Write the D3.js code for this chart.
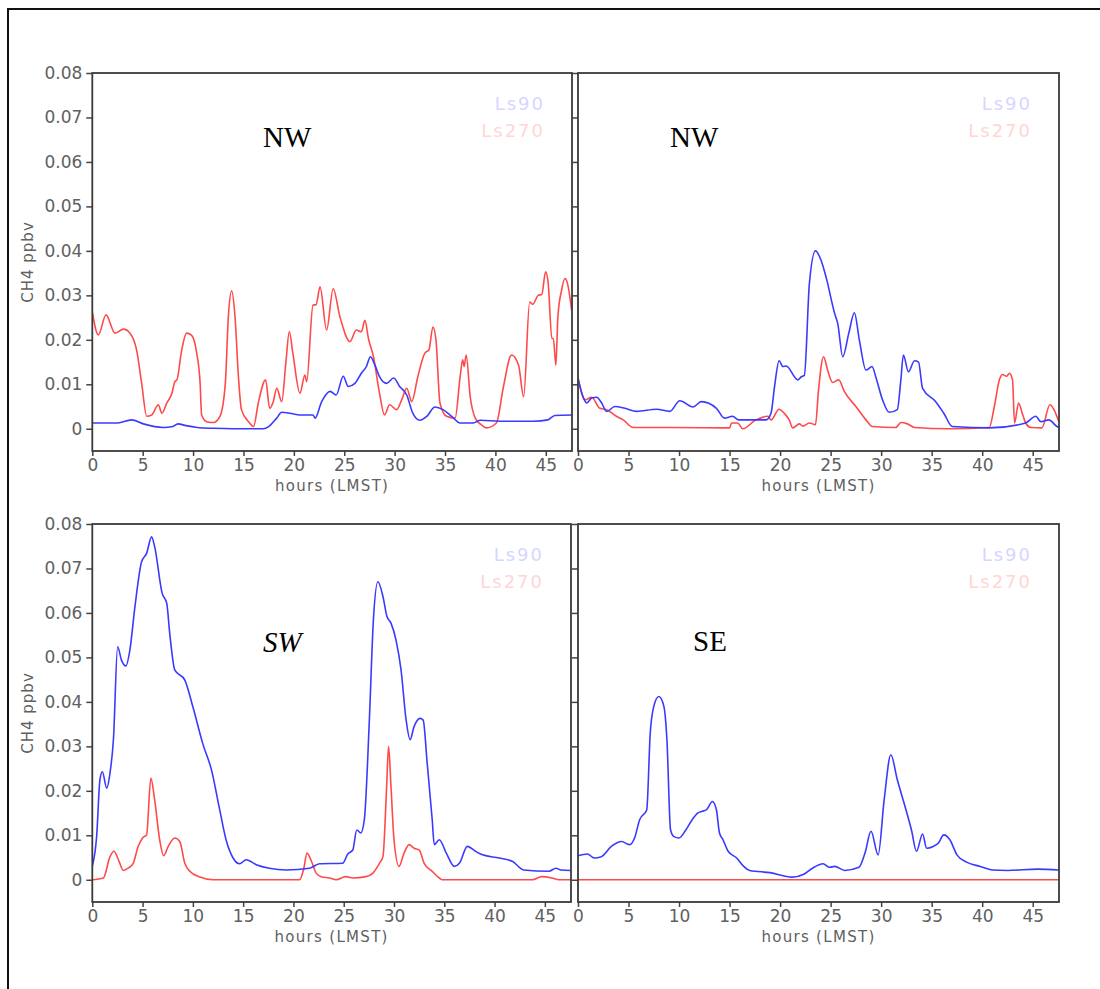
<!DOCTYPE html>
<html>
<head>
<meta charset="utf-8">
<script src="https://cdn.jsdelivr.net/npm/d3@7"></script>
<style>
  body { margin: 0; background: #fff; }
  svg { display: block; }
  .tick text { font-family: "DejaVu Sans", sans-serif; font-size: 17px; fill: #606060; }
  .tick line { stroke: #444; stroke-width: 1.5; }
</style>
</head>
<body>
<div id="chart"></div>
<script>
// hours (LMST) / CH4 ppbv
const nwLeftLs90 = [[0,0.0013],[2.4,0.0013],[3.9,0.002],[5.06,0.0011],[7.05,0.0003],[8.0,0.0005],[8.5,0.0011],[9.3,0.0007],[10.4,0.0003],[12.0,0.0001],[14.0,0],[17.0,0],[17.5,0.0005],[18.3,0.0024],[18.8,0.0037],[19.6,0.0035],[20.6,0.0031],[21.9,0.0031],[22.1,0.0024],[22.76,0.0061],[23.6,0.0084],[24.2,0.0076],[24.9,0.0118],[25.4,0.0095],[26.06,0.0102],[26.7,0.0125],[27.2,0.014],[27.6,0.0162],[28.05,0.0143],[28.5,0.0117],[29.2,0.0102],[29.9,0.0114],[30.5,0.0095],[31.2,0.0076],[31.8,0.0035],[32.5,0.0019],[33.2,0.0028],[34.0,0.0049],[34.8,0.0043],[35.65,0.0028],[36.5,0.0013],[37.8,0.0013],[38.5,0.0019],[40.5,0.0017],[43.8,0.0017],[45.2,0.002],[45.9,0.003],[47.6,0.0031]];
const nwLeftLs270 = [[0,0.0263],[0.6,0.0211],[1.36,0.0256],[2.25,0.0215],[3.1,0.0224],[3.74,0.0215],[4.4,0.0177],[4.9,0.0102],[5.4,0.0028],[5.9,0.0031],[6.55,0.0054],[6.9,0.0035],[7.4,0.0058],[7.9,0.008],[8.2,0.0106],[8.4,0.011],[8.87,0.0177],[9.36,0.0215],[9.86,0.021],[10.36,0.017],[10.7,0.0102],[10.85,0.0031],[11.35,0.0016],[12.0,0.0014],[12.67,0.0028],[13.2,0.0102],[13.5,0.0252],[13.83,0.031],[14.16,0.0252],[14.5,0.0117],[14.8,0.0043],[15.5,0.0016],[16.0,0.0005],[16.47,0.0058],[17.2,0.011],[17.6,0.0046],[17.96,0.0061],[18.3,0.0091],[18.8,0.0061],[19.2,0.0147],[19.55,0.0218],[19.9,0.017],[20.6,0.008],[21.1,0.0121],[21.27,0.0106],[21.9,0.0278],[22.2,0.0279],[22.6,0.0319],[23.25,0.0222],[23.9,0.0315],[24.57,0.0252],[25.57,0.0196],[26.2,0.0222],[26.7,0.0218],[27.05,0.0244],[27.4,0.0203],[27.9,0.0162],[28.5,0.008],[29.0,0.0031],[29.5,0.0054],[30.2,0.0043],[30.7,0.0065],[31.2,0.0091],[31.7,0.0061],[32.3,0.0117],[33.0,0.017],[33.4,0.0177],[33.8,0.0229],[34.1,0.02],[34.5,0.0058],[35.15,0.0028],[36.0,0.0024],[36.5,0.0117],[36.75,0.0155],[36.9,0.014],[37.1,0.0166],[37.5,0.0072],[38.0,0.0024],[38.6,0.0009],[39.1,0.0002],[40.1,0.0013],[40.8,0.0095],[41.6,0.0166],[42.3,0.0143],[42.8,0.0072],[43.4,0.0285],[43.7,0.028],[44.25,0.03],[44.6,0.0302],[44.98,0.0353],[45.24,0.0327],[45.6,0.0203],[45.75,0.0203],[46.0,0.0143],[46.2,0.0252],[46.57,0.0312],[46.9,0.0338],[47.15,0.0327],[47.56,0.0267]];

const nwRightLs90 = [[0,0.0114],[0.5,0.0072],[0.86,0.0058],[1.35,0.0069],[1.85,0.0071],[2.34,0.0058],[2.83,0.0039],[3.65,0.005],[4.64,0.0046],[5.8,0.0039],[7.77,0.0044],[9.08,0.0039],[10.07,0.0063],[11.4,0.0049],[12.2,0.0061],[13.7,0.0046],[14.5,0.0024],[15.3,0.0028],[15.9,0.002],[18.6,0.002],[19.1,0.0035],[19.45,0.0095],[19.9,0.0153],[20.27,0.014],[20.6,0.0141],[21.75,0.011],[22.1,0.0117],[22.4,0.012],[22.9,0.0327],[23.5,0.04],[24.05,0.0379],[24.55,0.0341],[25.4,0.0259],[25.7,0.0237],[26.2,0.0162],[26.8,0.0215],[27.35,0.0261],[27.84,0.02],[28.5,0.0132],[29.1,0.014],[29.5,0.0114],[30.14,0.0065],[30.8,0.0037],[31.6,0.0043],[31.95,0.011],[32.2,0.0166],[32.7,0.0128],[33.3,0.0153],[33.7,0.015],[34.1,0.0091],[35.4,0.0061],[36.2,0.0035],[37.05,0.0005],[40.7,0.0002],[44.3,0.0013],[45.3,0.0028],[45.8,0.0016],[46.6,0.002],[47.4,0.0005],[47.6,0.0003]];
const nwRightLs270 = [[0,0.0114],[0.7,0.0065],[1.35,0.0071],[2.17,0.0046],[2.83,0.0043],[3.8,0.0028],[4.47,0.002],[5.46,0.0003],[9.1,0.0003],[15.0,0.0002],[15.2,0.0013],[15.8,0.0013],[16.3,0],[17.6,0.002],[18.8,0.0028],[19.1,0.002],[19.9,0.0044],[20.4,0.0035],[20.9,0.002],[21.25,0.0002],[21.9,0.0011],[22.25,0.0006],[22.9,0.0013],[23.5,0.0009],[23.8,0.0087],[24.3,0.0162],[24.7,0.0132],[25.2,0.0104],[25.8,0.011],[26.35,0.0084],[27.5,0.005],[28.5,0.002],[29.15,0.0005],[31.46,0.0003],[31.95,0.0014],[32.6,0.0011],[33.3,0.0003],[36.7,0],[40.7,0.0003],[41.2,0.005],[41.7,0.011],[42.0,0.0122],[42.4,0.0118],[42.7,0.0125],[43.0,0.011],[43.2,0.0013],[43.6,0.0058],[43.96,0.0035],[44.3,0.0013],[44.8,0.0003],[45.9,0.0002],[46.7,0.0054],[47.1,0.0043],[47.6,0.0015]];

const swLs90 = [[0,0.003],[0.43,0.0097],[0.76,0.0225],[1.0,0.0243],[1.43,0.0206],[1.76,0.024],[2.1,0.0315],[2.52,0.0524],[2.9,0.0494],[3.34,0.0481],[3.74,0.0517],[4.24,0.0614],[4.9,0.0715],[5.4,0.0734],[5.9,0.0771],[6.2,0.0749],[6.95,0.0644],[7.4,0.0622],[7.7,0.0554],[8.2,0.0472],[9.2,0.0449],[10.0,0.0389],[11.0,0.0305],[11.85,0.0247],[12.67,0.0157],[13.3,0.009],[14.0,0.0049],[14.65,0.0036],[15.3,0.0045],[16.3,0.0034],[17.6,0.0026],[19.3,0.0022],[21.6,0.0026],[22.6,0.0036],[24.9,0.0037],[25.4,0.0058],[25.9,0.0067],[26.3,0.0112],[26.7,0.0105],[27.05,0.0135],[27.55,0.036],[27.95,0.0584],[28.4,0.067],[28.9,0.0637],[29.3,0.0592],[29.7,0.0577],[30.2,0.0539],[30.7,0.0472],[31.2,0.036],[31.6,0.0315],[32.0,0.0345],[32.6,0.0363],[32.9,0.0359],[33.3,0.0262],[33.8,0.0135],[34.0,0.0079],[34.5,0.009],[35.2,0.006],[36.0,0.003],[36.5,0.0037],[37.3,0.0075],[38.1,0.0064],[38.8,0.0056],[40.45,0.0049],[41.8,0.0041],[42.9,0.0022],[45.4,0.0019],[46.1,0.0026],[46.6,0.0022],[47.6,0.0021]];
const swLs270 = [[0,0],[1.1,0.0004],[1.76,0.0052],[2.15,0.0064],[2.6,0.0045],[3.08,0.0021],[3.57,0.0026],[4.07,0.0037],[4.56,0.0075],[5.0,0.0094],[5.4,0.0101],[5.82,0.0229],[6.2,0.018],[6.7,0.009],[7.1,0.0054],[7.55,0.0075],[8.2,0.0094],[8.7,0.0086],[9.2,0.0037],[9.7,0.0019],[10.7,0.0006],[12.0,0],[20.6,0],[21.0,0.0022],[21.35,0.006],[21.8,0.0041],[22.26,0.0015],[22.76,0.0007],[23.6,0.0004],[24.25,0],[25.2,0.0007],[25.9,0.0004],[27.2,0.0007],[27.9,0.0015],[28.55,0.0037],[28.9,0.0052],[29.27,0.021],[29.46,0.03],[29.7,0.021],[30.0,0.009],[30.5,0.003],[31.0,0.006],[31.5,0.0079],[32.0,0.0071],[32.5,0.0067],[33.0,0.0037],[33.8,0.0019],[34.5,0.0004],[34.8,0],[43.75,0],[44.7,0.0007],[45.7,0.0004],[46.4,0],[47.6,0]];

const seLs90 = [[0,0.0054],[0.94,0.0058],[1.6,0.0049],[2.3,0.0052],[3.3,0.0075],[4.3,0.0086],[5.1,0.0079],[5.6,0.0094],[6.1,0.0135],[6.8,0.0157],[7.15,0.033],[7.5,0.039],[8.0,0.0412],[8.5,0.039],[8.8,0.0315],[9.16,0.0112],[9.5,0.0097],[10.0,0.0094],[10.67,0.0112],[11.3,0.0135],[11.84,0.015],[12.3,0.0154],[12.7,0.0157],[13.3,0.0176],[13.7,0.0157],[14.0,0.0105],[14.35,0.009],[14.86,0.0064],[15.7,0.0049],[16.4,0.003],[17.0,0.0021],[19.0,0.0016],[21.2,0.0006],[22.4,0.0013],[23.2,0.0026],[24.25,0.0036],[24.9,0.0028],[25.4,0.003],[26.4,0.0021],[27.8,0.0028],[28.4,0.006],[29.0,0.0109],[29.7,0.0056],[30.3,0.018],[30.96,0.0281],[31.6,0.0225],[32.5,0.0154],[33.0,0.0112],[33.5,0.0064],[34.1,0.0103],[34.5,0.0071],[35.15,0.0075],[35.65,0.0082],[36.2,0.0101],[36.8,0.009],[37.5,0.0056],[38.5,0.0039],[39.8,0.003],[41.0,0.0022],[42.5,0.0021],[45.5,0.0024],[47.6,0.0022]];
const seLs270 = [[0,0],[47.6,0]];

const hourTicks = [0, 5, 10, 15, 20, 25, 30, 35, 40, 45];
const ch4Ticks = [0, 0.01, 0.02, 0.03, 0.04, 0.05, 0.06, 0.07, 0.08];
const seriesNames = ["Ls90", "Ls270"];

const W = 1100, H = 989;
const blue = "#3a3aff", red = "#ff4a4a";

const panels = [
  {title: "NW", italic: false, x0: 92.3, x1: 572, y0: 73, y1: 451, yLabels: true, tx: 263, ty: 147, ls90: nwLeftLs90, ls270: nwLeftLs270},
  {title: "NW", italic: false, x0: 578, x1: 1059, y0: 73, y1: 451, yLabels: false, tx: 670, ty: 147, ls90: nwRightLs90, ls270: nwRightLs270},
  {title: "SW", italic: true, x0: 92.3, x1: 571, y0: 524, y1: 902, yLabels: true, tx: 263, ty: 652, ls90: swLs90, ls270: swLs270},
  {title: "SE", italic: false, x0: 578, x1: 1059, y0: 524, y1: 902, yLabels: false, tx: 693, ty: 651, ls90: seLs90, ls270: seLs270}
];

const svg = d3.select("#chart").append("svg")
  .attr("width", W)
  .attr("height", H);

// outer frame (runs off the right and bottom of the picture)
svg.append("rect")
  .attr("x", 8).attr("y", 9)
  .attr("width", 1100).attr("height", 1000)
  .attr("fill", "none")
  .attr("stroke", "#111")
  .attr("stroke-width", 2);

panels.forEach((p, i) => {
  const x = d3.scaleLinear().domain([0, 47.6]).range([p.x0, p.x1]);
  const y = d3.scaleLinear().domain([-0.005, 0.08]).range([p.y1, p.y0]);
  const g = svg.append("g");

  const clipId = "clip" + i;
  g.append("clipPath").attr("id", clipId)
    .append("rect")
    .attr("x", p.x0).attr("y", p.y0)
    .attr("width", p.x1 - p.x0).attr("height", p.y1 - p.y0);

  const line = d3.line()
    .x(d => x(d[0]))
    .y(d => y(d[1]))
    .curve(d3.curveMonotoneX);

  // Ls270 first, Ls90 on top
  g.append("path")
    .datum(p.ls270)
    .attr("clip-path", `url(#${clipId})`)
    .attr("fill", "none")
    .attr("stroke", red)
    .attr("stroke-width", 1.6)
    .attr("d", line);
  g.append("path")
    .datum(p.ls90)
    .attr("clip-path", `url(#${clipId})`)
    .attr("fill", "none")
    .attr("stroke", blue)
    .attr("stroke-width", 1.6)
    .attr("d", line);

  const yAxis = d3.axisLeft(y)
    .tickValues(ch4Ticks)
    .tickSize(6)
    .tickPadding(4)
    .tickFormat(d => p.yLabels ? (d === 0 ? "0" : d3.format(".2f")(d)) : "");
  g.append("g")
    .attr("transform", `translate(${p.x0},0)`)
    .call(yAxis)
    .call(a => a.select(".domain").remove());

  const xAxis = d3.axisBottom(x)
    .tickValues(hourTicks)
    .tickSize(5)
    .tickPadding(3)
    .tickFormat(d3.format("d"));
  g.append("g")
    .attr("transform", `translate(0,${p.y1})`)
    .call(xAxis)
    .call(a => a.select(".domain").remove());

  g.append("rect")
    .attr("x", p.x0).attr("y", p.y0)
    .attr("width", p.x1 - p.x0).attr("height", p.y1 - p.y0)
    .attr("fill", "none")
    .attr("stroke", "#3a3a3a")
    .attr("stroke-width", 1.8);

  // faint series labels, top right
  g.selectAll(".legend")
    .data(seriesNames)
    .join("text")
    .attr("x", p.x1 - 27)
    .attr("y", (d, k) => p.y0 + 37 + k * 27)
    .attr("text-anchor", "end")
    .attr("font-family", "DejaVu Sans, sans-serif")
    .attr("font-size", 18)
    .attr("letter-spacing", 2)
    .attr("fill", (d, k) => k === 0 ? "#d6d6ff" : "#ffd6d6")
    .text(d => d);

  g.append("text")
    .attr("x", (p.x0 + p.x1) / 2)
    .attr("y", p.y1 + 40)
    .attr("text-anchor", "middle")
    .attr("font-family", "DejaVu Sans, sans-serif")
    .attr("font-size", 15)
    .attr("letter-spacing", 1.3)
    .attr("fill", "#606060")
    .text("hours (LMST)");

  if (p.yLabels) {
    g.append("text")
      .attr("transform", `translate(33,${(p.y0 + p.y1) / 2}) rotate(-90)`)
      .attr("text-anchor", "middle")
      .attr("font-family", "DejaVu Sans, sans-serif")
      .attr("font-size", 15)
      .attr("letter-spacing", 1)
      .attr("fill", "#606060")
      .text("CH4  ppbv");
  }

  g.append("text")
    .attr("x", p.tx)
    .attr("y", p.ty)
    .attr("font-family", "Liberation Serif, serif")
    .attr("font-size", 29)
    .attr("font-style", p.italic ? "italic" : "normal")
    .attr("fill", "#000")
    .text(p.title);
});
</script>
</body>
</html>
